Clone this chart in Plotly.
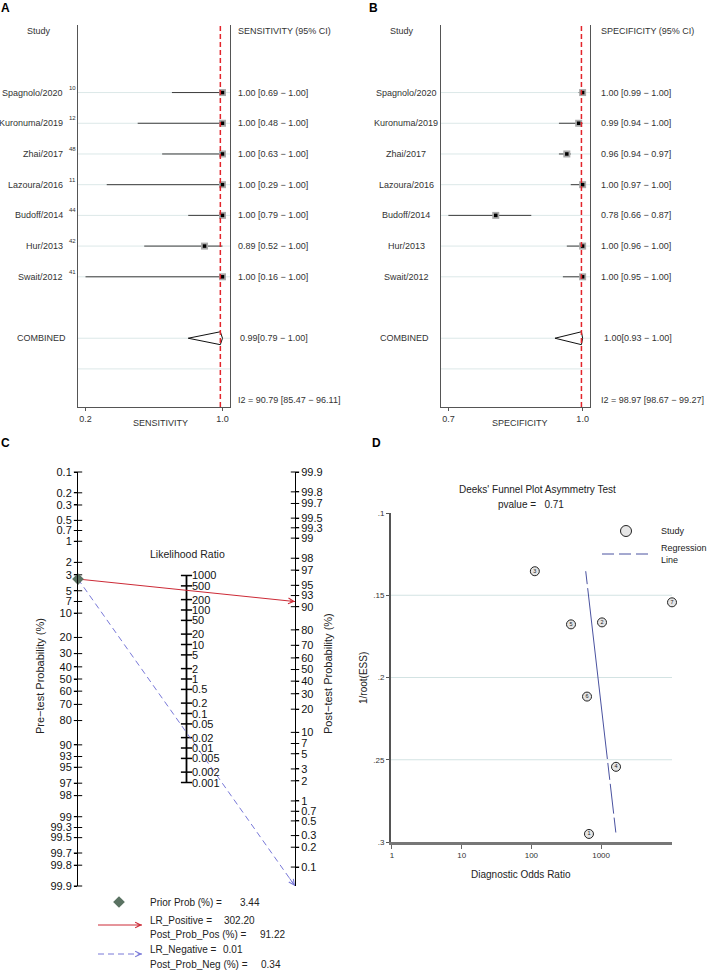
import numpy as np
import plotly.graph_objects as go

W, H = 709, 972
FONT = "Liberation Sans, Arial, Helvetica, sans-serif"

# ------------------------------------------------------------------ data
studies = ["Spagnolo/2020", "Kuronuma/2019", "Zhai/2017", "Lazoura/2016",
           "Budoff/2014", "Hur/2013", "Swait/2012"]
study_refs = ["10", "12", "48", "11", "44", "42", "41"]

sens = [1.00, 1.00, 1.00, 1.00, 1.00, 0.89, 1.00]
sens_lo = [0.69, 0.48, 0.63, 0.29, 0.79, 0.52, 0.16]
sens_hi = [1.00, 1.00, 1.00, 1.00, 1.00, 1.00, 1.00]

spec = [1.00, 0.99, 0.96, 1.00, 0.78, 1.00, 1.00]
spec_lo = [0.99, 0.94, 0.94, 0.97, 0.66, 0.96, 0.95]
spec_hi = [1.00, 1.00, 0.97, 1.00, 0.87, 1.00, 1.00]

pooled_sens = [0.987, 0.79, 1.00]
pooled_spec = [0.997, 0.93, 1.00]
i2_sens = [90.79, 85.47, 96.11]
i2_spec = [98.97, 98.67, 99.27]

prior_prob = 3.44
lr_pos = 302.20
lr_neg = 0.01
post_prob_pos = 91.22
post_prob_neg = 0.34

prob_ticks = [0.1, 0.2, 0.3, 0.5, 0.7, 1, 2, 3, 5, 7, 10, 20, 30, 40, 50, 60,
              70, 80, 90, 93, 95, 97, 98, 99, 99.3, 99.5, 99.7, 99.8, 99.9]
prob_tick_labels = ["0.1", "0.2", "0.3", "0.5", "0.7", "1", "2", "3", "5", "7",
                    "10", "20", "30", "40", "50", "60", "70", "80", "90", "93",
                    "95", "97", "98", "99", "99.3", "99.5", "99.7", "99.8", "99.9"]
lr_ticks = [1000, 500, 200, 100, 50, 20, 10, 5, 2, 1, 0.5, 0.2, 0.1, 0.05,
            0.02, 0.01, 0.005, 0.002, 0.001]
lr_tick_labels = ["1000", "500", "200", "100", "50", "20", "10", "5", "2", "1",
                  "0.5", "0.2", "0.1", "0.05", "0.02", "0.01", "0.005", "0.002", "0.001"]

deeks_ids = ["1", "2", "3", "4", "5", "6", "7"]
deeks_dor = [670, 1030, 112, 1636, 370, 628, 10400]
deeks_inv_sqrt_ess = [0.2951, 0.1665, 0.1354, 0.2543, 0.1677, 0.2116, 0.1543]
deeks_reg_intercept = 2.411   # log10(DOR) at 1/root(ESS) = 0
deeks_reg_slope = 2.72
deeks_pvalue = 0.71
deeks_yticks = [0.10, 0.15, 0.20, 0.25, 0.30]
deeks_ytick_labels = [".1", ".15", ".2", ".25", ".3"]
deeks_xticks = [1, 10, 100, 1000]
deeks_xtick_labels = ["1", "10", "100", "1000"]

# ------------------------------------------------------------------ helpers
NB = "\u00a0"


def fx(px):
    return px / W


def fy(py):
    return 1 - py / H


def logit(p):
    p = np.asarray(p, dtype=float)
    return np.log(p / (1 - p))


fig = go.Figure()
annotations = []
shapes = []


def ann(text, x, y, xref="paper", yref="paper", xanchor="center",
        yanchor="middle", size=9, color="#333", **kw):
    annotations.append(dict(text=text, x=x, y=y, xref=xref, yref=yref,
                            xanchor=xanchor, yanchor=yanchor, showarrow=False,
                            font=dict(family=FONT, size=size, color=color), **kw))


layout_axes = {}

# ------------------------------------------------------------------ forest plots (A, B)
n = len(studies)
rows = list(range(1, n + 1))
comb_row = n + 2
sep_row = n + 3
i2_row = n + 4
head_row = -1

forest_cfg = [
    dict(x="x", y="y", xk="xaxis", yk="yaxis", est=sens, lo=sens_lo, hi=sens_hi,
         pooled=pooled_sens, i2=i2_sens, left=78, right=230,
         header="SENSITIVITY (95% CI)", title="SENSITIVITY", title_px=160,
         val_px=236, comb_px=238, study_px=39, comb_name_px=41, sup=True),
    dict(x="x2", y="y2", xk="xaxis2", yk="yaxis2", est=spec, lo=spec_lo, hi=spec_hi,
         pooled=pooled_spec, i2=i2_spec, left=441, right=590,
         header="SPECIFICITY (95% CI)", title="SPECIFICITY", title_px=520,
         val_px=599, comb_px=602, study_px=402, comb_name_px=404, sup=False),
]

for c in forest_cfg:
    lo_min = min(c["lo"])
    span = 1.0 - lo_min
    xr = [lo_min - 0.055 * span, 1.0 + 0.055 * span]
    layout_axes[c["xk"]] = dict(
        domain=[fx(c["left"]), fx(c["right"])], range=xr, anchor=c["y"],
        tickvals=[lo_min, 1.0], ticktext=[f"{lo_min:.1f}", "1.0"],
        ticks="outside", ticklen=3, tickcolor="#555", tickwidth=1,
        showline=True, linecolor="#555", linewidth=1.2,
        tickfont=dict(family=FONT, size=9, color="#333"),
        showgrid=False, zeroline=False)
    layout_axes[c["yk"]] = dict(
        domain=[fy(407), fy(25)], range=[11.24, -1.2], anchor=c["x"],
        showline=True, mirror=True, linecolor="#555", linewidth=1.2,
        showticklabels=False, ticks="", showgrid=False, zeroline=False)

    # light row lines
    for r in rows + [comb_row, sep_row]:
        shapes.append(dict(type="line", xref=f"{c['x']} domain", x0=0, x1=1,
                           yref=c["y"], y0=r, y1=r, layer="below",
                           line=dict(color="#dce8e8", width=1)))
    # whiskers
    wx, wy = [], []
    for r, lo, hi in zip(rows, c["lo"], c["hi"]):
        wx += [lo, hi, None]
        wy += [r, r, None]
    fig.add_trace(go.Scatter(x=wx, y=wy, mode="lines", xaxis=c["x"], yaxis=c["y"],
                             line=dict(color="#3c3c3c", width=1), hoverinfo="skip",
                             showlegend=False))
    fig.add_trace(go.Scatter(x=c["est"], y=rows, mode="markers", xaxis=c["x"], yaxis=c["y"],
                             marker=dict(symbol="square", size=7, color="#a9a9a9"),
                             showlegend=False, cliponaxis=False))
    fig.add_trace(go.Scatter(x=c["est"], y=rows, mode="markers", xaxis=c["x"], yaxis=c["y"],
                             marker=dict(symbol="square", size=3.5, color="#000"),
                             showlegend=False, cliponaxis=False))
    # pooled diamond
    pe, plo, phi = c["pooled"]
    h = 0.21
    fig.add_trace(go.Scatter(x=[plo, pe, phi, pe, plo],
                             y=[comb_row, comb_row - h, comb_row, comb_row + h, comb_row],
                             mode="lines", fill="toself", fillcolor="white",
                             line=dict(color="#111", width=1), xaxis=c["x"], yaxis=c["y"],
                             showlegend=False, hoverinfo="skip"))
    # pooled dashed line
    shapes.append(dict(type="line", xref=c["x"], x0=pe, x1=pe,
                       yref=f"{c['y']} domain", y0=0, y1=1,
                       line=dict(color="#e3242b", width=1.5, dash="5px,3px")))

    # texts
    ann("Study", fx(c["study_px"]), head_row, yref=c["y"])
    ann(c["header"], fx(c["val_px"]), head_row, yref=c["y"], xanchor="left")
    for r, name, ref, e, lo, hi in zip(rows, studies, study_refs, c["est"], c["lo"], c["hi"]):
        if c["sup"]:
            ann(name, fx(65), r, yref=c["y"], xanchor="right")
            ann(ref, fx(67), r, yref=c["y"], xanchor="left", size=6, yshift=5)
        else:
            ann(name, fx(406), r, yref=c["y"])
        ann(f"{e:.2f} [{lo:.2f} \u2212 {hi:.2f}]", fx(c["val_px"]), r, yref=c["y"], xanchor="left")
    ann("COMBINED", fx(c["comb_name_px"]), comb_row, yref=c["y"])
    ann(f"{pe:.2f}[{plo:.2f} \u2212 {phi:.2f}]", fx(c["comb_px"]), comb_row, yref=c["y"], xanchor="left")
    ann(f"I2 = {c['i2'][0]:.2f} [{c['i2'][1]:.2f} \u2212 {c['i2'][2]:.2f}]",
        fx(c["val_px"]), i2_row, yref=c["y"], xanchor="left")
    ann(c["title"], fx(c["title_px"]), fy(423))

# ------------------------------------------------------------------ Fagan nomogram (C)
p_min, p_max = min(prob_ticks) / 100, max(prob_ticks) / 100
y3_range = [float(-logit(p_max)), float(-logit(p_min))]
y4_range = [-7.569, float(logit(p_max))]
c_dom = [fy(886), fy(472)]

layout_axes["xaxis3"] = dict(domain=[fx(78), fx(295)], range=[-1, 1], anchor="y3",
                             visible=False, showgrid=False, zeroline=False)
layout_axes["yaxis3"] = dict(
    domain=c_dom, range=y3_range, anchor="x3", side="left",
    tickvals=list(-logit(np.array(prob_ticks) / 100)), ticktext=prob_tick_labels,
    ticks="outside", ticklen=3, tickcolor="#000", showline=True, linecolor="#000",
    linewidth=1, tickfont=dict(family=FONT, size=11, color="#111"),
    showgrid=False, zeroline=False)
layout_axes["yaxis4"] = dict(
    domain=c_dom, range=y4_range, anchor="x3", overlaying="y3", side="right",
    tickvals=list(logit(np.array(prob_ticks) / 100)), ticktext=prob_tick_labels,
    ticks="outside", ticklen=3, tickcolor="#000", showline=True, linecolor="#000",
    linewidth=1, tickfont=dict(family=FONT, size=11, color="#111"),
    showgrid=False, zeroline=False)

# crossing ticks (inner halves)
fig.add_trace(go.Scatter(x=[-1] * len(prob_ticks), y=list(-logit(np.array(prob_ticks) / 100)),
                         mode="markers", xaxis="x3", yaxis="y3", cliponaxis=False,
                         marker=dict(symbol="line-ew", size=6, line=dict(color="#000", width=1)),
                         showlegend=False, hoverinfo="skip"))
fig.add_trace(go.Scatter(x=[1] * len(prob_ticks), y=list(logit(np.array(prob_ticks) / 100)),
                         mode="markers", xaxis="x3", yaxis="y4", cliponaxis=False,
                         marker=dict(symbol="line-ew", size=6, line=dict(color="#000", width=1)),
                         showlegend=False, hoverinfo="skip"))

# middle LR axis
lr_u = list(np.log(np.array(lr_ticks, dtype=float)) / 2)
fig.add_trace(go.Scatter(x=[0, 0], y=[max(lr_u), min(lr_u)], mode="lines", xaxis="x3", yaxis="y3",
                         line=dict(color="#000", width=1.8), showlegend=False, hoverinfo="skip"))
fig.add_trace(go.Scatter(x=[0] * len(lr_u), y=lr_u, mode="markers", xaxis="x3", yaxis="y3",
                         marker=dict(symbol="line-ew", size=8, line=dict(color="#000", width=1.5)),
                         showlegend=False, hoverinfo="skip", cliponaxis=False))
for u, lab in zip(lr_u, lr_tick_labels):
    ann(lab, 0, u, xref="x3", yref="y3", xanchor="left", size=11, color="#111", xshift=3)


def y4_to_y3(v):
    return y3_range[0] + (v - y4_range[0]) * (y3_range[1] - y3_range[0]) / (y4_range[1] - y4_range[0])


u_pre = float(-logit(prior_prob / 100))
line_cfg = [(lr_pos, "#cc2a36", "solid"), (lr_neg, "#7878d8", "6px,4px")]
for lr, col, dash in line_cfg:
    post_logit = float(logit(prior_prob / 100) + np.log(lr))
    post_logit = min(max(post_logit, y4_range[0]), y4_range[1])
    u_end = y4_to_y3(post_logit)
    fig.add_trace(go.Scatter(x=[-1, 1], y=[u_pre, u_end], mode="lines", xaxis="x3", yaxis="y3",
                             line=dict(color=col, width=1, dash=dash), showlegend=False,
                             hoverinfo="skip", cliponaxis=False))
    annotations.append(dict(x=1, y=u_end, xref="x3", yref="y3",
                            ax=1 - 0.06, ay=u_end - 0.03 * (u_end - u_pre),
                            axref="x3", ayref="y3", showarrow=True, arrowhead=5,
                            arrowsize=1.1, arrowwidth=1, arrowcolor=col, text=""))

fig.add_trace(go.Scatter(x=[-1], y=[u_pre], mode="markers", xaxis="x3", yaxis="y3",
                         marker=dict(symbol="diamond", size=9, color="#5a7262"),
                         showlegend=False, cliponaxis=False))

ann("Likelihood Ratio", fx(188), fy(554), size=10.5, color="#222")
ann("Pre\u2212test Probability (%)", fx(40), fy(676), size=11, color="#222", textangle=-90)
ann("Post\u2212test Probability (%)", fx(328), fy(674), size=11, color="#222", textangle=-90)

# ------------------------------------------------------------------ page-pixel overlay (legends)
layout_axes["xaxis6"] = dict(domain=[0, 1], range=[0, W], anchor="y6", visible=False,
                             showgrid=False, zeroline=False)
layout_axes["yaxis6"] = dict(domain=[0, 1], range=[H, 0], anchor="x6", visible=False,
                             showgrid=False, zeroline=False)

fig.add_trace(go.Scatter(x=[119], y=[902], mode="markers", xaxis="x6", yaxis="y6",
                         marker=dict(symbol="diamond", size=9, color="#5a7262"),
                         showlegend=False, hoverinfo="skip"))
fig.add_trace(go.Scatter(x=[98, 142], y=[925, 925], mode="lines", xaxis="x6", yaxis="y6",
                         line=dict(color="#cc2a36", width=1), showlegend=False, hoverinfo="skip"))
fig.add_trace(go.Scatter(x=[98, 142], y=[954, 954], mode="lines", xaxis="x6", yaxis="y6",
                         line=dict(color="#7878d8", width=1, dash="6px,4px"),
                         showlegend=False, hoverinfo="skip"))
for yy, col in [(925, "#cc2a36"), (954, "#7878d8")]:
    annotations.append(dict(x=142, y=yy, xref="x6", yref="y6", ax=136, ay=yy,
                            axref="x6", ayref="y6", showarrow=True, arrowhead=5,
                            arrowsize=1.1, arrowwidth=1, arrowcolor=col, text=""))

leg_rows = [("Prior Prob (%) =", 902, f"{prior_prob:.2f}", 238),
            ("LR_Positive =", 920, f"{lr_pos:.2f}", 222),
            ("Post_Prob_Pos (%) =", 934, f"{post_prob_pos:.2f}", 258),
            ("LR_Negative =", 949, f"{lr_neg:.2f}", 221),
            ("Post_Prob_Neg (%) =", 964, f"{post_prob_neg:.2f}", 259)]
for lab, yy, val, vx in leg_rows:
    ann(lab, fx(148), fy(yy), xanchor="left", size=10, color="#222")
    ann(val, fx(vx), fy(yy), xanchor="left", size=10, color="#222")

# ------------------------------------------------------------------ Deeks funnel (D)
xr_log = [np.log10(min(deeks_xticks)) - 0.014, np.log10(max(deeks_dor)) + 0.0]
layout_axes["xaxis5"] = dict(
    type="log", domain=[fx(391), fx(672)], range=xr_log, anchor="y5",
    tickvals=deeks_xticks, ticktext=deeks_xtick_labels, ticks="outside", ticklen=4,
    tickcolor="#666", showline=True, linecolor="#777", linewidth=2.5,
    tickfont=dict(family=FONT, size=8, color="#333"), showgrid=False, zeroline=False)
layout_axes["yaxis5"] = dict(
    domain=[fy(842), fy(513)], range=[max(deeks_yticks), min(deeks_yticks)], anchor="x5",
    tickvals=deeks_yticks, ticktext=deeks_ytick_labels, ticks="outside", ticklen=3,
    tickcolor="#555", showline=True, linecolor="#555", linewidth=2,
    tickfont=dict(family=FONT, size=8, color="#333"), showgrid=False, zeroline=False)

for yv in deeks_yticks[1:-1]:
    shapes.append(dict(type="line", xref="x5 domain", x0=0, x1=1, yref="y5", y0=yv, y1=yv,
                       layer="below", line=dict(color="#d3e3e3", width=1)))

reg_y = [min(deeks_inv_sqrt_ess), max(deeks_inv_sqrt_ess)]
reg_x = [10 ** (deeks_reg_intercept + deeks_reg_slope * v) for v in reg_y]
fig.add_trace(go.Scatter(x=reg_x, y=reg_y, mode="lines", xaxis="x5", yaxis="y5",
                         line=dict(color="#4a52a0", width=1,
                                   dash="13px,4px,172px,4px,17px,4px,30px,4px,15px,60px"),
                         showlegend=False, hoverinfo="skip"))
fig.add_trace(go.Scatter(x=deeks_dor, y=deeks_inv_sqrt_ess, mode="markers+text",
                         text=deeks_ids, textposition="middle center",
                         textfont=dict(family=FONT, size=5.5, color="#222"),
                         marker=dict(symbol="circle", size=9, color="#e4e4e4",
                                     line=dict(color="#222", width=1)),
                         xaxis="x5", yaxis="y5", cliponaxis=False, showlegend=False))

# D legend
fig.add_trace(go.Scatter(x=[626], y=[531], mode="markers", xaxis="x6", yaxis="y6",
                         marker=dict(symbol="circle", size=11, color="#e6e6e6",
                                     line=dict(color="#222", width=1)),
                         showlegend=False, hoverinfo="skip"))
fig.add_trace(go.Scatter(x=[602, 650], y=[554, 554], mode="lines", xaxis="x6", yaxis="y6",
                         line=dict(color="#4a52a0", width=1, dash="12px,5px"),
                         showlegend=False, hoverinfo="skip"))
ann("Study", fx(659), fy(531), xanchor="left", size=9, color="#222")
ann("Regression", fx(659), fy(548), xanchor="left", size=9, color="#222")
ann("Line", fx(659), fy(560), xanchor="left", size=9, color="#222")

ann("Deeks' Funnel Plot Asymmetry Test", fx(537), fy(489), size=10, color="#222")
ann(f"pvalue ={NB*3}{deeks_pvalue:.2f}", fx(531), fy(504), size=10, color="#222")
ann("1/root(ESS)", fx(363), fy(678), size=10, color="#222", textangle=-90)
ann("Diagnostic Odds Ratio", fx(521), fy(874), size=10, color="#222")

# ------------------------------------------------------------------ panel letters
for lab, px, py in [("A", 5, 8), ("B", 374, 8), ("C", 5, 443), ("D", 377, 443)]:
    ann(f"<b>{lab}</b>", fx(px), fy(py), size=12, color="#000")

fig.update_layout(
    width=W, height=H, autosize=False,
    margin=dict(l=0, r=0, t=0, b=0, pad=0),
    paper_bgcolor="white", plot_bgcolor="rgba(0,0,0,0)",
    template="none", showlegend=False,
    font=dict(family=FONT, size=9, color="#333"),
    annotations=annotations, shapes=shapes,
    **layout_axes,
)

fig.write_html(
    "out.html",
    config={"displayModeBar": False, "staticPlot": True},
    post_script="document.body.style.margin='0';document.body.style.padding='0';"
                "document.body.style.overflow='hidden';",
)
